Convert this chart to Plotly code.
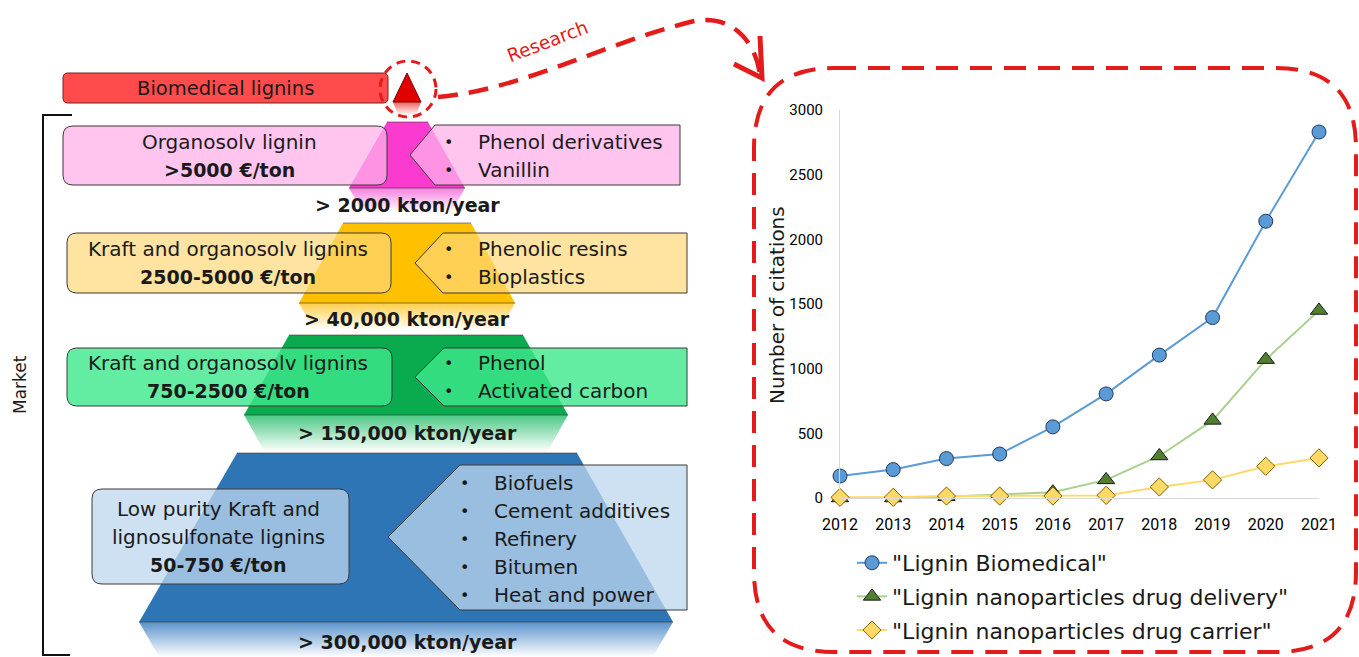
import plotly.graph_objects as go

# ---------------- line chart data ----------------
years = [2012, 2013, 2014, 2015, 2016, 2017, 2018, 2019, 2020, 2021]
biomedical = [170, 220, 305, 340, 550, 805, 1105, 1395, 2140, 2830]
drug_delivery = [0, 0, 10, 25, 45, 140, 325, 600, 1070, 1450]
drug_carrier = [5, 5, 15, 15, 15, 20, 85, 140, 245, 310]
series_names = ['"Lignin Biomedical"', '"Lignin nanoparticles drug delivery"',
                '"Lignin nanoparticles drug carrier"']
y_ticks = [0, 500, 1000, 1500, 2000, 2500, 3000]
y_title = "Number of citations"

# ---------------- pyramid text ----------------
top_label = "Biomedical lignins"
lignin_types = [["Organosolv lignin"],
                ["Kraft and organosolv lignins"],
                ["Kraft and organosolv lignins"],
                ["Low purity Kraft and", "lignosulfonate lignins"]]
prices = [">5000 €/ton", "2500-5000 €/ton", "750-2500 €/ton", "50-750 €/ton"]
uses = [["Phenol derivatives", "Vanillin"],
        ["Phenolic resins", "Bioplastics"],
        ["Phenol", "Activated carbon"],
        ["Biofuels", "Cement additives", "Refinery", "Bitumen", "Heat and power"]]
volumes = ["> 2000 kton/year", "> 40,000 kton/year", "> 150,000 kton/year",
           "> 300,000 kton/year"]

# ---------------- pyramid geometry (pixel space) ----------------
W, H = 1359, 657
tiers = [  # top y, top x0, top x1, bottom y, bottom x0, bottom x1, reflection end y
    (122, 387, 428, 188, 349, 465, 212),
    (223, 343, 471, 303, 299, 515, 330),
    (335, 289, 523, 415, 244, 568, 452),
    (453, 237, 577, 622, 139, 673, 657),
]
tier_colors = ["#fb3bd0", "#ffc000", "#0aaa4e", "#2e75b6"]
reflect_colors = ["#f77fdf", "#ffcf4a", "#4cc985", "#5a93cc"]
box_fills = ["rgba(255,178,234,0.75)", "rgba(255,215,120,0.70)",
             "rgba(60,232,140,0.80)", "rgba(190,215,238,0.75)"]
left_boxes = [(63, 126, 387, 185), (67, 233, 391, 293), (67, 348, 392, 406), (92, 489, 349, 584)]
left_text_x = [229, 228, 228, 218]
right_boxes = [  # tip x, tip y, corner x, top y, bottom y, right x
    (410, 155, 435, 125, 185, 680),
    (415, 263, 443, 233, 293, 687),
    (415, 377, 444, 348, 406, 687),
    (388, 537, 460, 465, 610, 687),
]
line_rows = [(142, 28), (249, 28), (363, 28), (483, 28)]
bullet_x = [448, 448, 448, 464]
vol_y = [205, 319, 433, 642]

FONT = "DejaVu Sans, Roboto, sans-serif"
TICK_FONT = "Roboto, sans-serif"
TXT = "#1a1a1a"
RED = "#e41b1b"


def rrect(x0, y0, x1, y1, r):
    return (f"M{x0 + r},{y0} L{x1 - r},{y0} Q{x1},{y0} {x1},{y0 + r} "
            f"L{x1},{y1 - r} Q{x1},{y1} {x1 - r},{y1} L{x0 + r},{y1} "
            f"Q{x0},{y1} {x0},{y1 - r} L{x0},{y0 + r} Q{x0},{y0} {x0 + r},{y0} Z")


fig = go.Figure()
shapes = []
annotations = []

# pyramid tiers and their faded reflections
for (ty, tx0, tx1, by, bx0, bx1, ry), col, rcol in zip(tiers, tier_colors, reflect_colors):
    shapes.append(dict(type="path", xref="x", yref="y", layer="below",
                       path=f"M{tx0},{ty} L{tx1},{ty} L{bx1},{by} L{bx0},{by} Z",
                       fillcolor=col, line=dict(width=0)))
    shapes.append(dict(type="line", xref="x", yref="y", x0=tx0, x1=tx1, y0=ty, y1=ty,
                       line=dict(color="rgba(50,50,50,0.55)", width=1)))
    shapes.append(dict(type="line", xref="x", yref="y", x0=bx0, x1=bx1, y0=by, y1=by,
                       line=dict(color="rgba(50,50,50,0.6)", width=1.2)))
    slope = (tx0 - bx0) / (by - ty)
    d = slope * (ry - by)
    fig.add_trace(go.Scatter(
        x=[bx0, bx1, bx1 - d, bx0 + d, bx0], y=[by, by, ry, ry, by],
        xaxis="x", yaxis="y", mode="lines", fill="toself", line=dict(width=0),
        fillgradient=dict(type="vertical", start=by, stop=ry,
                          colorscale=[[0, rcol], [1, "rgba(255,255,255,1)"]]),
        hoverinfo="skip", showlegend=False))

# left (lignin type) and right (applications) boxes
for i in range(4):
    x0, y0, x1, y1 = left_boxes[i]
    shapes.append(dict(type="path", xref="x", yref="y", layer="above", path=rrect(x0, y0, x1, y1, 10),
                       fillcolor=box_fills[i], line=dict(color="#3a3a3a", width=1)))
    tx, tyy, cx, ty0, ty1, rx = right_boxes[i]
    shapes.append(dict(type="path", xref="x", yref="y", layer="above",
                       path=f"M{tx},{tyy} L{cx},{ty0} L{rx},{ty0} L{rx},{ty1} L{cx},{ty1} Z",
                       fillcolor=box_fills[i], line=dict(color="#3a3a3a", width=1)))

    y_start, step = line_rows[i]
    lines = lignin_types[i] + [prices[i]]
    n = len(lines)
    mid = (y0 + y1) / 2
    for k, t in enumerate(lines):
        yy = mid + (k - (n - 1) / 2) * step
        bold = (k == n - 1)
        annotations.append(dict(x=left_text_x[i], y=yy, xref="x", yref="y", showarrow=False,
                                text=f"<b>{t}</b>" if bold else t, xanchor="center", yanchor="middle",
                                font=dict(family=FONT, size=19 if bold else 20, color=TXT)))
    for k, t in enumerate(uses[i]):
        yy = y_start + k * step
        annotations.append(dict(x=bullet_x[i], y=yy, xref="x", yref="y", showarrow=False,
                                text="•", xanchor="center", yanchor="middle",
                                font=dict(family=FONT, size=16, color=TXT)))
        annotations.append(dict(x=bullet_x[i] + 28, y=yy, xref="x", yref="y", showarrow=False,
                                text=t, xanchor="left", yanchor="middle",
                                font=dict(family=FONT, size=20, color=TXT)))
    annotations.append(dict(x=407, y=vol_y[i], xref="x", yref="y", showarrow=False,
                            text=f"<b>{volumes[i]}</b>", xanchor="center", yanchor="middle",
                            font=dict(family=FONT, size=19, color=TXT)))

# biomedical tip: red bar, small triangle with its reflection, dashed circle
shapes.append(dict(type="path", xref="x", yref="y", path=rrect(63, 73, 388, 103, 5),
                   fillcolor="#ff4b4b", line=dict(color="#7a1f1f", width=1)))
annotations.append(dict(x=225, y=88, xref="x", yref="y", showarrow=False, text=top_label,
                        font=dict(family=FONT, size=19.5, color=TXT)))
shapes.append(dict(type="path", xref="x", yref="y", path="M407,73 L421,102 L393,102 Z",
                   fillcolor="#e00000", line=dict(color="#7a0000", width=1)))
fig.add_trace(go.Scatter(
    x=[393, 421, 416, 398, 393], y=[102, 102, 115, 115, 102], xaxis="x", yaxis="y",
    mode="lines", fill="toself", line=dict(width=0),
    fillgradient=dict(type="vertical", start=102, stop=115,
                      colorscale=[[0, "#f06060"], [1, "rgba(255,255,255,1)"]]),
    hoverinfo="skip", showlegend=False))
shapes.append(dict(type="circle", xref="x", yref="y", x0=380, x1=436, y0=61, y1=117,
                   line=dict(color=RED, width=3, dash="9px,6px")))

# dashed "Research" arrow towards the chart panel
shapes.append(dict(type="path", xref="x", yref="y",
                   path="M438,97 C520,90 600,45 690,22 C730,12 755,40 760,74",
                   line=dict(color=RED, width=4.5, dash="20px,11px")))
shapes.append(dict(type="path", xref="x", yref="y", path="M734,64 L762,78 L760,36",
                   line=dict(color=RED, width=5)))
annotations.append(dict(x=547, y=41, xref="x", yref="y", showarrow=False, text="Research",
                        textangle=-21, font=dict(family=FONT, size=18.5, color=RED)))

# dashed rounded frame around the chart
shapes.append(dict(type="path", xref="x", yref="y", path=rrect(754, 68, 1356, 652, 80),
                   line=dict(color=RED, width=4, dash="22px,12px")))

# market bracket
shapes.append(dict(type="path", xref="x", yref="y", path="M72,115 L43,115 L43,655 L70,655",
                   line=dict(color="#111111", width=2)))
annotations.append(dict(x=20, y=385, xref="x", yref="y", showarrow=False, text="Market",
                        textangle=-90, font=dict(family=FONT, size=17, color=TXT)))

# y-axis title of the citations chart
annotations.append(dict(x=777, y=305, xref="x", yref="y", showarrow=False, text=y_title,
                        textangle=-90, font=dict(family=FONT, size=20, color=TXT)))

# ---------------- citations line chart ----------------
styles = [
    dict(line="#5b9bd5", symbol="circle", size=14, fill="#5b9bd5", edge="#1f3864"),
    dict(line="#a9d18e", symbol="triangle-up", size=15, fill="#4f7f2f", edge="#1a1a1a"),
    dict(line="#ffd966", symbol="diamond", size=14, fill="#ffd966", edge="#7f6000"),
]
for vals, name, st in zip([biomedical, drug_delivery, drug_carrier], series_names, styles):
    fig.add_trace(go.Scatter(
        x=years, y=vals, name=name, xaxis="x2", yaxis="y2", mode="lines+markers",
        line=dict(color=st["line"], width=2),
        marker=dict(symbol=st["symbol"], size=st["size"], color=st["fill"],
                    line=dict(color=st["edge"], width=1)),
        cliponaxis=False, legendgroup=name))

fig.update_layout(
    width=W, height=H, margin=dict(l=0, r=0, t=0, b=0, pad=0, autoexpand=False),
    paper_bgcolor="white", plot_bgcolor="rgba(0,0,0,0)",
    shapes=shapes, annotations=annotations,
    xaxis=dict(range=[0, W], domain=[0, 1], visible=False, fixedrange=True),
    yaxis=dict(range=[H, 0], domain=[0, 1], visible=False, fixedrange=True),
    xaxis2=dict(domain=[840 / W, 1319 / W], range=[2012, 2021], anchor="y2",
                tickvals=years, showgrid=False, zeroline=False,
                showline=True, linecolor="#d9d9d9", linewidth=1, ticks="",
                ticklabelstandoff=12,
                tickfont=dict(family=TICK_FONT, size=16, color="#000000")),
    yaxis2=dict(domain=[(H - 498) / H, (H - 110) / H], range=[0, 3000], anchor="x2",
                tickvals=y_ticks, showgrid=False, zeroline=False,
                showline=True, linecolor="#d9d9d9", linewidth=1, ticks="",
                ticklabelstandoff=13,
                tickfont=dict(family=TICK_FONT, size=15, color="#000000")),
    legend=dict(x=852 / W, y=(H - 542) / H, xanchor="left", yanchor="top",
                bgcolor="rgba(0,0,0,0)", itemwidth=30, tracegroupgap=2,
                font=dict(family=FONT, size=22, color=TXT)),
    showlegend=True,
)

fig.write_html("out.html")
